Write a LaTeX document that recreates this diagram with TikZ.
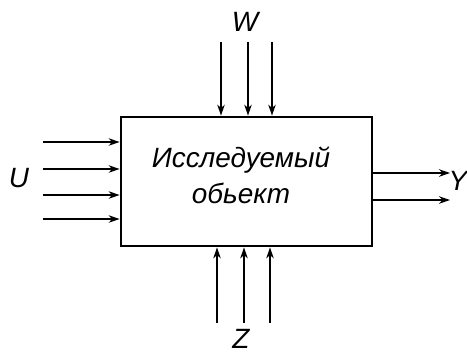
\documentclass[tikz,border=0pt]{standalone}
\usepackage{fontspec}
\setmainfont{Liberation Sans}
\usetikzlibrary{arrows.meta,positioning}

\begin{document}
\begin{tikzpicture}[
  x=1bp, y=-1bp,
  font=\itshape\fontsize{28}{30}\selectfont,
  objbox/.style={draw, line width=2.8bp, minimum width=251bp,
    minimum height=129bp, inner sep=0pt},
  objtext/.style={align=center, inner sep=0pt, font=\itshape\fontsize{28}{36}\selectfont},
  varlabel/.style={inner sep=0pt},
  arrow/.style={-{Stealth[length=11bp,width=7.5bp]}, line width=1.5bp}
]
\useasboundingbox (0,0) rectangle (467,354);
\node[objbox] (obj) at (246.5,181.5) {};
\node[objtext] (name) at (241,175) {Исследуемый\\обьект};

% inputs U
\coordinate (u1) at (43,142);
\coordinate (u2) at (43,169);
\coordinate (u3) at (43,195);
\coordinate (u4) at (43,219);
\node[varlabel] (U) at (19,178) {U};
\draw[arrow] (u1) -- (u1 -| obj.west);
\draw[arrow] (u2) -- (u2 -| obj.west);
\draw[arrow] (u3) -- (u3 -| obj.west);
\draw[arrow] (u4) -- (u4 -| obj.west);

% disturbances W
\coordinate (w1) at (221,42);
\coordinate (w2) at (248,42);
\coordinate (w3) at (272,42);
\node[varlabel] (W) at (245,22) {W};
\draw[arrow] (w1) -- (w1 |- obj.north);
\draw[arrow] (w2) -- (w2 |- obj.north);
\draw[arrow] (w3) -- (w3 |- obj.north);

% controls Z
\coordinate (z1) at (217,323);
\coordinate (z2) at (244,323);
\coordinate (z3) at (270,323);
\node[varlabel] (Z) at (241,339) {Z};
\draw[arrow] (z1) -- (z1 |- obj.south);
\draw[arrow] (z2) -- (z2 |- obj.south);
\draw[arrow] (z3) -- (z3 |- obj.south);

% outputs Y
\coordinate (y1) at (450,173);
\coordinate (y2) at (450,200);
\node[varlabel] (Y) at (458,181) {Y};
\draw[arrow] (y1 -| obj.east) -- (y1);
\draw[arrow] (y2 -| obj.east) -- (y2);
\end{tikzpicture}
\end{document}
